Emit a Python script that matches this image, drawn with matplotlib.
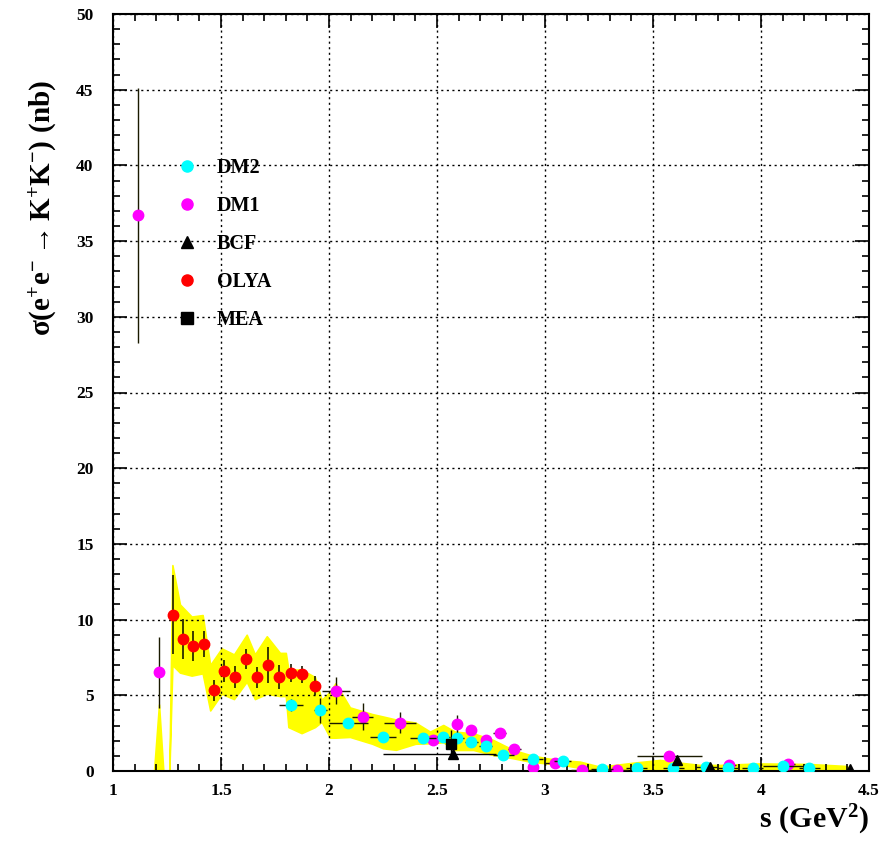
import matplotlib
matplotlib.use("Agg")
import matplotlib.pyplot as plt
from matplotlib.ticker import MultipleLocator
from matplotlib.lines import Line2D

plt.rcParams['font.family'] = ['Liberation Serif', 'DejaVu Serif']
plt.rcParams['font.weight'] = 'bold'
plt.rcParams['mathtext.fontset'] = 'custom'
plt.rcParams['mathtext.rm'] = 'Liberation Serif:bold'
plt.rcParams['mathtext.it'] = 'Liberation Serif:bold'
plt.rcParams['mathtext.bf'] = 'Liberation Serif:bold'

# ---------------- data ----------------
# DM1 (magenta)
dm1_s = [1.116, 1.213, 2.032, 2.156, 2.329, 2.483, 2.594, 2.659, 2.725, 2.790,
         2.858, 2.943, 3.046, 3.170, 3.332, 3.576, 3.853, 4.126]
dm1_y = [36.7, 6.52, 5.31, 3.59, 3.20, 2.08, 3.10, 2.71, 2.08, 2.49,
         1.45, 0.26, 0.56, 0.07, 0.07, 0.99, 0.40, 0.44]
dm1_yerr = [8.4, 2.35, 0.90, 0.87, 0.70, 0.30, 0.60, 0.30, 0.30, 0.30,
            0.35, 0.20, 0.20, 0.10, 0.10, 0.10, 0.10, 0.10]
dm1_xerr = [0.0, 0.0, 0.065, 0.05, 0.075, 0.02, 0.02, 0.02, 0.02, 0.03,
            0.03, 0.02, 0.05, 0.05, 0.05, 0.15, 0.03, 0.03]

# DM2 (cyan)
dm2_s = [1.824, 1.960, 2.089, 2.251, 2.434, 2.529, 2.594, 2.659, 2.725, 2.807,
         2.943, 3.082, 3.263, 3.424, 3.594, 3.745, 3.845, 3.961, 4.103, 4.224]
dm2_y = [4.38, 4.00, 3.14, 2.27, 2.16, 2.27, 2.20, 1.89, 1.65, 1.06,
         0.80, 0.66, 0.12, 0.22, 0.22, 0.24, 0.22, 0.18, 0.35, 0.22]
dm2_yerr = [0.40, 0.80, 0.30, 0.30, 0.25, 0.25, 0.25, 0.20, 0.20, 0.15,
            0.15, 0.10, 0.05, 0.05, 0.05, 0.05, 0.05, 0.05, 0.05, 0.05]
dm2_xerr = [0.054, 0.03, 0.09, 0.06, 0.06, 0.03, 0.03, 0.03, 0.03, 0.05,
            0.05, 0.04, 0.05, 0.05, 0.05, 0.05, 0.05, 0.05, 0.095, 0.05]

# OLYA (red)
olya_s = [1.276, 1.324, 1.370, 1.420, 1.466, 1.515, 1.563, 1.614, 1.665, 1.718,
          1.770, 1.824, 1.876, 1.935]
olya_y = [10.33, 8.72, 8.26, 8.39, 5.33, 6.60, 6.23, 7.40, 6.19, 7.00,
          6.23, 6.49, 6.38, 5.64]
olya_yerr = [2.6, 1.3, 1.0, 0.85, 0.70, 0.72, 0.73, 0.67, 0.70, 1.20,
             0.80, 0.60, 0.57, 0.62]

# BCF (triangles)
bcf_s = [2.575, 3.613, 3.764, 4.412]
bcf_y = [1.10, 0.70, 0.28, 0.15]
bcf_xerr_lo = [0.325, 0.0, 0.0, 0.0]
bcf_xerr_hi = [0.20, 0.0, 0.0, 0.0]

# MEA (square)
mea_s = [2.563]
mea_y = [1.80]
mea_yerr = [0.90]

# Yellow band (lower / upper envelope)
band_s = [1.190, 1.213, 1.233, 1.261, 1.275, 1.310, 1.364, 1.415, 1.450, 1.503,
          1.560, 1.619, 1.657, 1.712, 1.773, 1.800, 1.812, 1.873, 1.935, 1.966,
          2.005, 2.030, 2.097, 2.200, 2.250, 2.310, 2.400, 2.468, 2.529, 2.583,
          2.668, 2.760, 2.853, 2.930, 3.008, 3.085, 3.162, 3.255, 3.410, 3.532,
          3.625, 3.718, 3.810, 3.995, 4.227, 4.397, 4.420]
band_hi = [0.0, 4.4, 0.0, 0.0, 13.6, 11.0, 10.2, 10.3, 7.0, 8.1,
           7.7, 9.0, 7.7, 8.9, 7.8, 7.8, 6.7, 6.7, 6.2, 4.7,
           5.25, 5.8, 4.2, 3.76, 3.6, 3.4, 3.2, 2.6, 3.04, 2.6,
           2.49, 2.05, 1.39, 1.06, 0.84, 0.70, 0.62, 0.28, 0.55, 0.73,
           0.55, 0.40, 0.40, 0.50, 0.46, 0.33, 0.0]
band_lo = [0.0, 0.0, 0.0, 0.0, 7.0, 6.5, 6.3, 6.45, 4.0, 5.1,
           4.75, 5.9, 4.75, 5.1, 4.95, 4.95, 2.9, 2.5, 2.9, 3.25,
           2.2, 2.2, 2.25, 1.8, 1.5, 1.4, 1.8, 1.83, 1.9, 1.39,
           1.39, 1.06, 0.84, 0.62, 0.50, 0.40, 0.20, 0.10, 0.10, 0.10,
           0.10, 0.08, 0.06, 0.05, 0.05, 0.05, 0.0]

labels = ['DM2', 'DM1', 'BCF', 'OLYA', 'MEA']

# ---------------- figure ----------------
fig = plt.figure(figsize=(8.95, 8.42), dpi=100)
ax = fig.add_axes([113 / 895, 71 / 842, 756 / 895, 757 / 842])

ax.fill_between(band_s, band_lo, band_hi, color='#ffff00', lw=1.2,
                edgecolor='#ffff00', zorder=1)

ecol = '#1a1a00'
ms = 7.5
ax.errorbar(olya_s, olya_y, yerr=olya_yerr, fmt='o', color='#ff0000', ms=ms,
            ecolor=ecol, elinewidth=1.2, capsize=0, zorder=3)
ax.errorbar(dm1_s, dm1_y, yerr=dm1_yerr, xerr=dm1_xerr, fmt='o', color='#ff00ff',
            ms=ms, ecolor=ecol, elinewidth=1.0, capsize=0, zorder=3)
ax.errorbar(dm2_s, dm2_y, yerr=dm2_yerr, xerr=dm2_xerr, fmt='o', color='#00ffff',
            ms=ms, ecolor=ecol, elinewidth=1.0, capsize=0, zorder=4)
ax.errorbar(bcf_s, bcf_y, xerr=[bcf_xerr_lo, bcf_xerr_hi], fmt='^', color='black',
            ms=6.5, ecolor='black', elinewidth=1.0, capsize=0, zorder=4)
ax.errorbar(mea_s, mea_y, yerr=mea_yerr, fmt='s', color='black', ms=7,
            ecolor='black', elinewidth=1.0, capsize=0, zorder=4)

ax.set_xlim(1, 4.5)
ax.set_ylim(0, 50)
ax.xaxis.set_major_locator(MultipleLocator(0.5))
ax.xaxis.set_minor_locator(MultipleLocator(0.1))
ax.yaxis.set_major_locator(MultipleLocator(5))
ax.yaxis.set_minor_locator(MultipleLocator(1))
ax.tick_params(which='both', direction='in', top=True, right=True, width=1.2)
ax.tick_params(which='major', length=10, labelsize=12.5)
ax.tick_params(axis='x', which='major', pad=8.5)
ax.tick_params(axis='y', which='major', pad=14)
ax.tick_params(which='minor', length=5)
ax.grid(True, which='major', color='black', linestyle=(0, (1.5, 2.5)), lw=1.0)
ax.set_axisbelow(False)
for sp in ax.spines.values():
    sp.set_linewidth(1.5)

ax.xaxis.set_major_formatter(plt.FuncFormatter(lambda v, p: f'{v:g}'))
for lab in ax.get_xticklabels() + ax.get_yticklabels():
    lab.set_fontweight('bold')

ax.set_xlabel(r'$\mathrm{s\ (GeV^{2})}$', fontsize=21.5, loc='right')
ax.set_ylabel(r'$\mathrm{\sigma(e^{+}e^{-}\rightarrow K^{+}K^{-})\ (nb)}$',
              fontsize=21, loc='top')
ax.xaxis.set_label_coords(1.0, -0.042)
ax.yaxis.set_label_coords(-0.072, 0.913)

handles = [
    Line2D([], [], ls='none', marker='o', color='#00ffff', ms=8),
    Line2D([], [], ls='none', marker='o', color='#ff00ff', ms=8),
    Line2D([], [], ls='none', marker='^', color='black', ms=8),
    Line2D([], [], ls='none', marker='o', color='#ff0000', ms=8),
    Line2D([], [], ls='none', marker='s', color='black', ms=8),
]
leg = ax.legend(handles, labels, loc='upper left', bbox_to_anchor=(0.0745, 0.82),
                frameon=False, prop={'family': 'Liberation Serif', 'weight': 'bold', 'size': 14.5},
                handlelength=1.0, handletextpad=0.95, labelspacing=0.89, borderaxespad=0)

fig.savefig('out.png', dpi=100)
